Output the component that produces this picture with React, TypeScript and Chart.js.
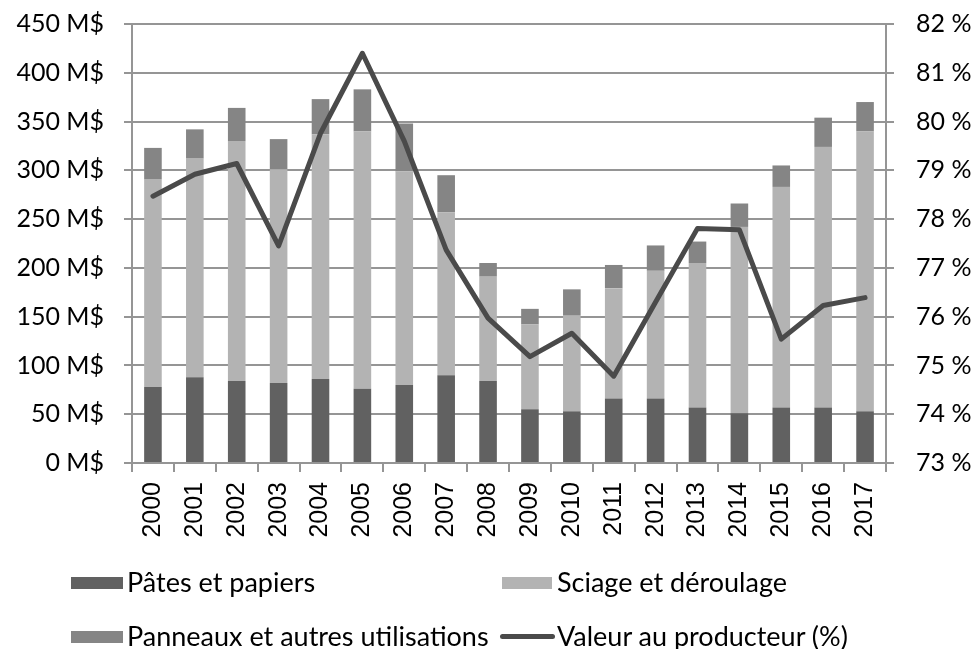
import React, { useEffect, useRef } from "react";
import Chart from "chart.js/auto";

const years = ["2000","2001","2002","2003","2004","2005","2006","2007","2008","2009","2010","2011","2012","2013","2014","2015","2016","2017"];
const pates = [78, 88, 84, 82, 86, 76, 80, 90, 84, 55, 53, 66, 66, 57, 51, 57, 57, 53];
const sciage = [213, 224, 246, 219, 251, 264, 219, 167, 107, 87, 98, 113, 131, 148, 191, 226, 267, 287];
const panneaux = [32, 30, 34, 31, 36, 43, 49, 38, 14, 16, 27, 24, 26, 22, 24, 22, 30, 30];
const valeur = [78.47, 78.92, 79.14, 77.45, 79.76, 81.4, 79.6, 77.37, 75.97, 75.18, 75.66, 74.78, 76.3, 77.81, 77.78, 75.54, 76.23, 76.39];

const labelPates = "Pâtes et papiers";
const labelSciage = "Sciage et déroulage";
const labelPanneaux = "Panneaux et autres utilisations";
const labelValeur = "Valeur au producteur (%)";

const cDark = "#616161";
const cLight = "#b3b3b3";
const cMid = "#858585";
const cLine = "#4a4a4a";
const cGrid = "#959595";

export default function App() {
  const ref = useRef<HTMLCanvasElement | null>(null);
  useEffect(() => {
    if (!ref.current) return;
    const chart = new Chart(ref.current, {
      type: "bar",
      data: {
        labels: years,
        datasets: [
          { type: "line", label: labelValeur, data: valeur, yAxisID: "y1", borderColor: cLine, backgroundColor: cLine, borderWidth: 5, pointRadius: 0, tension: 0, borderCapStyle: "round", borderJoinStyle: "round", order: 0 } as any,
          { label: labelPates, data: pates, backgroundColor: cDark, yAxisID: "y", stack: "s", order: 1 },
          { label: labelSciage, data: sciage, backgroundColor: cLight, yAxisID: "y", stack: "s", order: 1 },
          { label: labelPanneaux, data: panneaux, backgroundColor: cMid, yAxisID: "y", stack: "s", order: 1 },
        ],
      },
      options: {
        animation: false,
        responsive: false,
        maintainAspectRatio: false,
        layout: { padding: { top: 24, left: 0, right: 0, bottom: 0 } },
        datasets: { bar: { barPercentage: 0.42, categoryPercentage: 1.0 } },
        plugins: { legend: { display: false }, tooltip: { enabled: false } },
        scales: {
          x: {
            stacked: true,
            grid: { display: true, drawOnChartArea: false, drawTicks: true, tickLength: 9, color: cGrid, lineWidth: 2, offset: true },
            border: { display: true, color: cGrid, width: 2 },
            ticks: { maxRotation: 90, minRotation: 90, padding: 10, color: "#000", font: { family: "'Liberation Sans', Arial, sans-serif", size: 25 } },
            afterFit: (s: any) => { s.height = 186; s.paddingLeft = 0; s.paddingRight = 0; s.paddingTop = 0; s.paddingBottom = 0; },
          },
          y: {
            stacked: true,
            position: "left",
            min: 0,
            max: 450,
            ticks: { stepSize: 50, padding: 20, color: "#000", font: { family: "Lato, sans-serif", size: 25 }, callback: (v: any) => `${v} M$` },
            grid: { color: cGrid, lineWidth: 2, tickLength: 8 },
            border: { display: true, color: cGrid, width: 2 },
            afterFit: (s: any) => { s.width = 132; s.paddingTop = 0; s.paddingBottom = 0; },
          },
          y1: {
            stacked: false,
            position: "right",
            min: 73,
            max: 82,
            ticks: { stepSize: 1, padding: 22, color: "#000", font: { family: "Lato, sans-serif", size: 25 }, callback: (v: any) => `${v} %` },
            grid: { drawOnChartArea: false, color: cGrid, lineWidth: 2, tickLength: 8 },
            border: { display: true, color: cGrid, width: 2 },
            afterFit: (s: any) => { s.width = 93; s.paddingTop = 0; s.paddingBottom = 0; },
          },
        },
      },
    });
    return () => chart.destroy();
  }, []);

  const textStyle: React.CSSProperties = { position: "absolute", fontFamily: "Lato, sans-serif", fontSize: 27, color: "#000", whiteSpace: "nowrap", lineHeight: "28px" };
  const box = (x: number, y: number, w: number, h: number, c: string): React.CSSProperties => ({ position: "absolute", left: x, top: y, width: w, height: h, background: c });

  return (
    <div style={{ position: "fixed", left: 0, top: 0, width: 979, height: 649, background: "#fff", overflow: "hidden" }}>
      <canvas ref={ref} width={979} height={649} style={{ position: "absolute", left: 0, top: 0, width: 979, height: 649 }} />
      <div style={box(71, 577, 52, 12, cDark)} />
      <div style={{ ...textStyle, left: 127, top: 568 }}>{labelPates}</div>
      <div style={box(502, 577, 50, 12, cLight)} />
      <div style={{ ...textStyle, left: 557, top: 568 }}>{labelSciage}</div>
      <div style={box(71, 631, 52, 12, cMid)} />
      <div style={{ ...textStyle, left: 127, top: 622 }}>{labelPanneaux}</div>
      <div style={{ position: "absolute", left: 500, top: 634, width: 55, height: 5, borderRadius: 3, background: cLine }} />
      <div style={{ ...textStyle, left: 557, top: 622 }}>{labelValeur}</div>
    </div>
  );
}
